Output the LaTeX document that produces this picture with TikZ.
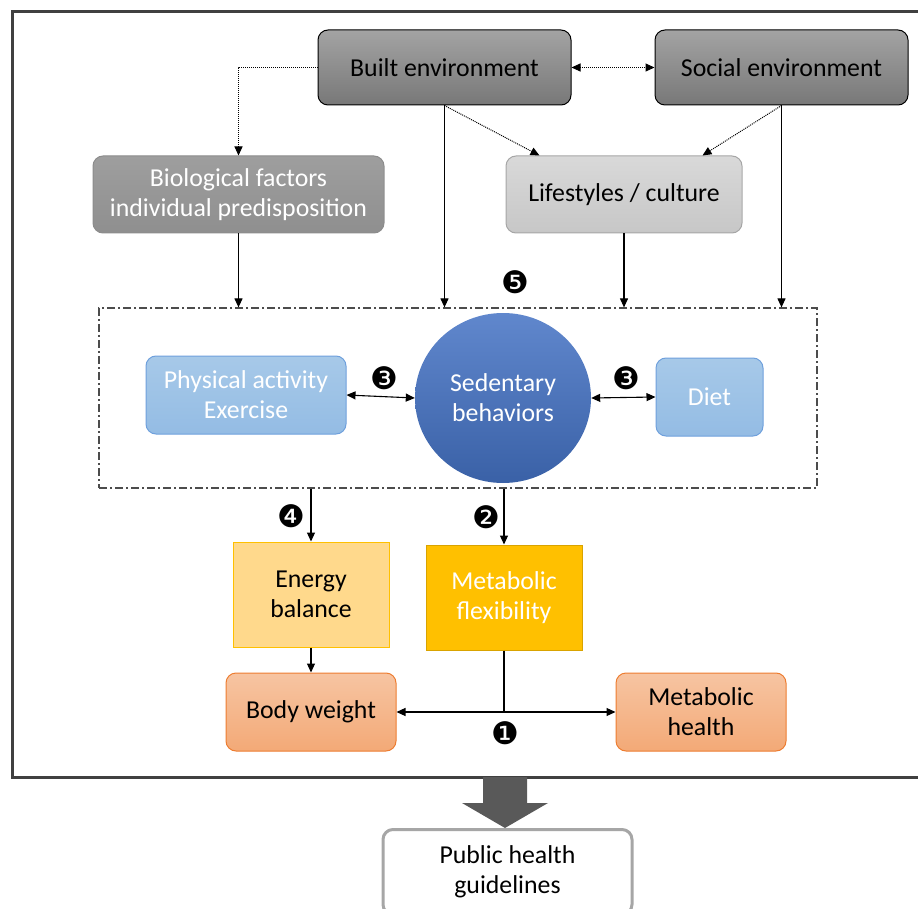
\documentclass[tikz,border=0pt]{standalone}
\usepackage{fontspec}
\setmainfont{Carlito}
\newfontfamily\numfont{DejaVu Sans}
\usetikzlibrary{shapes.geometric,arrows.meta}
\definecolor{framegray}{HTML}{404040}
\definecolor{bigarrow}{HTML}{595959}
\definecolor{palblue}{HTML}{9DC3E6}
\definecolor{midblue}{HTML}{6FA0DC}
\definecolor{sedblue}{HTML}{4472C4}
\definecolor{gold}{HTML}{FFC000}
\definecolor{lightgold}{HTML}{FFD98C}
\definecolor{salmon}{HTML}{F4B183}
\definecolor{darkorange}{HTML}{ED7D31}

\begin{document}
\begin{tikzpicture}[x=1pt,y=-1pt,
  box/.style={rounded corners=10pt,inner sep=0pt,align=center,line width=1pt,
    font=\fontsize{25.8}{30}\selectfont},
  dark/.style={box,draw=black,top color=black!36,bottom color=black!53},
  grey/.style={box,draw=black!45,top color=black!38,bottom color=black!44,text=white},
  light/.style={box,draw=black!35,top color=black!15,bottom color=black!22},
  blue/.style={box,draw=midblue,top color=palblue!90,bottom color=palblue!80!midblue,text=white},
  sq/.style={box,rounded corners=0pt},
  pink/.style={box,draw=darkorange,top color=salmon!75,bottom color=salmon!85!darkorange},
  num/.style={font=\numfont\fontsize{31}{31}\selectfont},
  >={Triangle[length=9pt,width=8pt]},
  con/.style={->,line width=1.1pt},
  dot/.style={dash pattern=on 1pt off 1pt,line width=1pt}]
  \useasboundingbox (0,0) rectangle (918,909);
  \draw[framegray,line width=3pt] (12,12) rectangle (960,777);
  \fill[bigarrow] (483,777) -- (527,777) -- (527,803) -- (548,803) -- (505,828) -- (462,803) -- (483,803) -- cycle;

  \node[dark,minimum width=253pt,minimum height=75pt] (be) at (444.5,67.5) {Built environment};
  \node[dark,minimum width=253pt,minimum height=75pt] (se) at (781.5,67.5) {Social environment};
  \node[grey,minimum width=291pt,minimum height=77pt] (bio) at (238.5,194.5) {Biological factors\\individual predisposition};
  \node[light,minimum width=236pt,minimum height=77pt] (life) at (624,194.5) {Lifestyles / culture};
  \node[draw=black!70,dash pattern=on 8pt off 3pt on 2pt off 3pt,line width=1.2pt,minimum width=718pt,minimum height=180pt] (grp) at (458,398) {};
  \node[blue,minimum width=200pt,minimum height=78pt] (pa) at (246,395) {Physical activity\\Exercise};
  \node[ellipse,inner sep=0pt,align=center,font=\fontsize{25.8}{30}\selectfont,text=white,
    top color=sedblue!85!white,bottom color=sedblue!85!black,minimum width=176pt,minimum height=170pt] (sed) at (503,398) {Sedentary\\behaviors};
  \node[blue,minimum width=107pt,minimum height=78pt] (diet) at (709.5,397) {Diet};
  \node[sq,draw=gold,fill=lightgold,minimum width=156pt,minimum height=105pt] (eb) at (311,594.5) {Energy\\balance};
  \node[sq,draw=gold!85!black,fill=gold,text=white,minimum width=156pt,minimum height=105pt] (mf) at (504,597.5) {Metabolic\\flexibility};
  \node[pink,minimum width=170pt,minimum height=78pt] (bw) at (311,712) {Body weight};
  \node[pink,minimum width=170pt,minimum height=78pt] (mh) at (701,712) {Metabolic\\health};
  \node[box,draw=black!35,fill=white,line width=3pt,minimum width=249pt,minimum height=85pt] (pub) at (507.5,872) {Public health\\guidelines};

  \draw[dot,->] (be.west) -| (bio.north);
  \draw[dot,<->] (be) -- (se);
  \draw[dot,->] (be.south) -- ([xshift=34pt]life.north west);
  \draw[dot,->] (se.south) -- ([xshift=-40pt]life.north east);
  \draw[con] (be.south) -- (be.south |- grp.north);
  \draw[con] (se.south) -- (se.south |- grp.north);
  \draw[con] (bio.south) -- (bio.south |- grp.north);
  \draw[con] (life.south) -- (life.south |- grp.north);
  \draw[con,<->] (pa.east) -- (sed.west);
  \draw[con,<->] (sed.east) -- (diet.west);
  \draw[con] (eb.north |- grp.south) -- (eb.north);
  \draw[con] (mf.north |- grp.south) -- (mf.north);
  \draw[con] (eb) -- (bw);
  \draw[line width=2.2pt] (mf.south) -- (mf.south |- bw.east);
  \draw[con,<->] (bw.east) -- (mh.west);

  \node[num] (n5) at (515,282) {❺};
  \node[num] (n3a) at (384,378) {❸};
  \node[num] (n3b) at (626,378) {❸};
  \node[num] (n4) at (291,516) {❹};
  \node[num] (n2) at (486,517) {❷};
  \node[num] (n1) at (505,733) {❶};
\end{tikzpicture}
\end{document}
